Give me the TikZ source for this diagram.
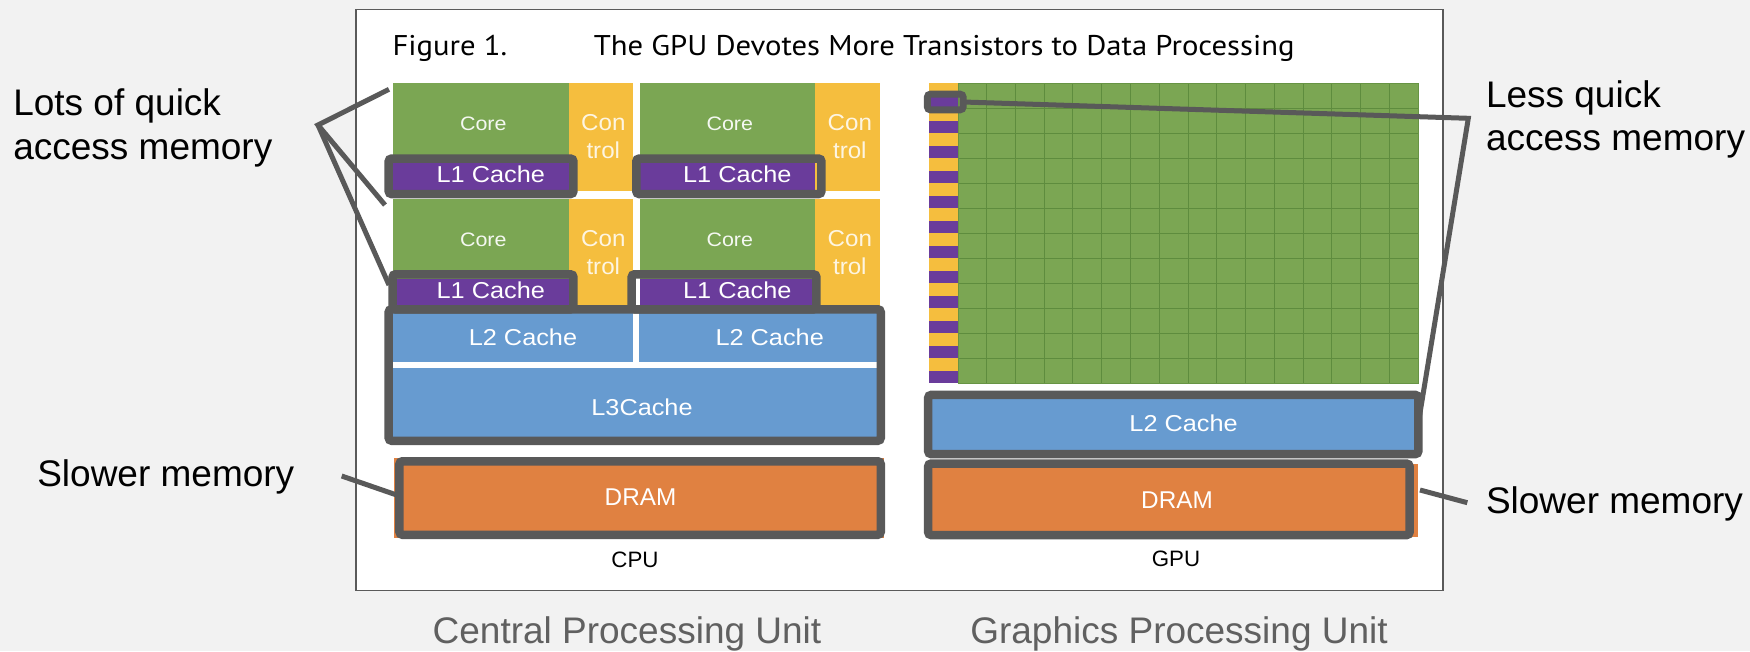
\documentclass[tikz,border=0pt]{standalone}
\usepackage{graphicx}
\usepackage{fontspec}
\setmainfont{Liberation Sans}
\newfontfamily\dinfont{PT Sans}
\usetikzlibrary{calc}

\definecolor{bggray}{HTML}{F2F2F2}
\definecolor{framegray}{HTML}{5A5A5A}
\definecolor{outgray}{HTML}{595959}
\definecolor{coregreen}{HTML}{7BA653}
\definecolor{gridline}{HTML}{5E8C3E}
\definecolor{ctlyellow}{HTML}{F5BE3E}
\definecolor{l1purple}{HTML}{6A3C9B}
\definecolor{cacheblue}{HTML}{679BD0}
\definecolor{dramorange}{HTML}{E08141}
\definecolor{labelgray}{HTML}{606060}

% filled block from corner (x1,y1) to corner (x2,y2)
\newcommand\blk[6]{%
  \pgfmathsetmacro\blkW{#5-#3}\pgfmathsetmacro\blkH{#6-#4}%
  \pgfmathsetmacro\blkX{(#3+#5)/2}\pgfmathsetmacro\blkY{(#4+#6)/2}%
  \node[blockfill, fill=#2, minimum width=\blkW pt, minimum height=\blkH pt] (#1) at (\blkX,\blkY) {};}
% thick highlight frame given by its outer edges and line width
\newcommand\hlbox[6]{%
  \pgfmathsetmacro\hlW{#4-#2-#6}\pgfmathsetmacro\hlH{#5-#3-#6}%
  \pgfmathsetmacro\hlX{(#2+#4)/2}\pgfmathsetmacro\hlY{(#3+#5)/2}%
  \node[hilite, line width=#6pt, minimum width=\hlW pt, minimum height=\hlH pt] (#1) at (\hlX,\hlY) {};}
% horizontally widened text
\newcommand\widetext[2]{\scalebox{#1}[1]{#2}}

\begin{document}
\begin{tikzpicture}[x=1pt,y=-1pt,
  blockfill/.style={rectangle, draw=none, inner sep=0pt, outer sep=0pt},
  hilite/.style={rectangle, draw=outgray, fill=none, rounded corners=3pt, inner sep=0pt, outer sep=0pt},
  pointer/.style={draw=outgray, line width=5pt},
  lbl/.style={inner sep=0pt, outer sep=0pt},
  headtext/.style={lbl, anchor=base west, font=\dinfont\fontsize{28.5}{34}\selectfont},
  blocktext/.style={lbl, text=white, font=\fontsize{23}{28}\selectfont},
  coretext/.style={lbl, text=white, opacity=0.92, font=\fontsize{19.5}{24}\selectfont},
  ctltext/.style={lbl, text=white, opacity=0.85, font=\fontsize{23}{28}\selectfont},
  armtext/.style={lbl, text=white, font=\fontsize{24.3}{28}\selectfont},
  note/.style={lbl, text=black, font=\fontsize{37}{44}\selectfont},
  unitname/.style={lbl, text=labelgray, font=\fontsize{37}{44}\selectfont}]

\useasboundingbox (0,0) rectangle (1750,651);
\fill[bggray] (0,0) rectangle (1750,651);
\draw[fill=white, draw=framegray, line width=1.8pt] (355.7,9.5) rectangle (1443,590.5);

% heading
\node[headtext] (fignum) at (392.5,55.7) {\widetext{1.077}{Figure 1.}};
\node[headtext] (figtitle) at (593.8,55.7) {\widetext{1.077}{The GPU Devotes More Transistors to Data Processing}};

% ---------------- CPU ----------------
\blk{coreA}{coregreen}{393}{83.3}{568.5}{190.7}
\blk{ctlA}{ctlyellow}{568.5}{83.3}{633}{190.7}
\blk{coreB}{coregreen}{639.5}{83.3}{815}{190.7}
\blk{ctlB}{ctlyellow}{815}{83.3}{879.5}{190.7}
\blk{coreC}{coregreen}{393}{199.3}{568.5}{306}
\blk{ctlC}{ctlyellow}{568.5}{199.3}{633}{306}
\blk{coreD}{coregreen}{639.5}{199.3}{815}{306}
\blk{ctlD}{ctlyellow}{815}{199.3}{879.5}{306}
\blk{lA}{l1purple}{393}{163.3}{568.5}{190.7}
\blk{lB}{l1purple}{639.5}{163.3}{815}{190.7}
\blk{lC}{l1purple}{393}{279.3}{568.5}{306}
\blk{lD}{l1purple}{639.5}{279.3}{815}{306}
\blk{ltwoA}{cacheblue}{393}{306}{633.2}{361.7}
\blk{ltwoB}{cacheblue}{639}{306}{877.3}{361.7}
\blk{lthree}{cacheblue}{393}{368.3}{877.3}{442}
\blk{dramC}{dramorange}{394}{458}{884}{538}

\foreach \cx/\ctx/\row/\dy in {483.3/603.3/1/0, 729.8/849.8/2/0, 483.3/603.3/3/116, 729.8/849.8/4/116}{
  \node[coretext, anchor=base] (coretxt\row) at (\cx,130+\dy) {\widetext{1.1}{Core}};
  \node[ctltext, anchor=base] (contxt\row) at (\ctx,130+\dy) {\widetext{1.05}{Con}};
  \node[ctltext, anchor=base] (troltxt\row) at (\ctx,158.3+\dy) {\widetext{1.05}{trol}};
  \node[blocktext, anchor=base] (lonetxt\row) at (\cx+7.5,182.7+\dy) {\widetext{1.1}{L1 Cache}};
}
\node[blocktext, anchor=base] (ltwotxtA) at (523,345) {\widetext{1.1}{L2 Cache}};
\node[blocktext, anchor=base] (ltwotxtB) at (769.7,345) {\widetext{1.1}{L2 Cache}};
\node[blocktext, anchor=base] (lthreetxt) at (642,415) {\widetext{1.1}{L3Cache}};
\node[armtext, anchor=base] (dramCtxt) at (640.5,505.7) {DRAM};
\node[lbl, anchor=base, font=\fontsize{22.3}{26}\selectfont] (cpulbl) at (635,567.7) {CPU};

% ---------------- GPU ----------------
\blk{alu}{coregreen}{957.9}{83.3}{1418.1}{383.3}
\foreach \j in {0,...,11}{
  \fill[ctlyellow] (929.1,83.3+25*\j) rectangle (957.9,95.8+25*\j);
  \fill[l1purple] (929.1,95.8+25*\j) rectangle (957.9,108.3+25*\j);
}
\foreach \i in {1,...,15}
  \draw[gridline, line width=1pt] (957.9+28.763*\i,83.3) -- (957.9+28.763*\i,383.3);
\foreach \j in {1,...,11}
  \draw[gridline, line width=1pt] (957.9,83.3+25*\j) -- (1418.1,83.3+25*\j);
\draw[gridline!70!coregreen, line width=0.8pt] (alu.north west) rectangle (alu.south east);

\blk{gltwo}{cacheblue}{931}{396}{1416}{452}
\blk{dramG}{dramorange}{931}{464}{1418.4}{537}
\node[blocktext, anchor=base] (gltwotxt) at (1183.6,431.7) {\widetext{1.1}{L2 Cache}};
\node[armtext, anchor=base] (dramGtxt) at (1177,508.3) {DRAM};
\node[lbl, anchor=base, font=\fontsize{22.3}{26}\selectfont] (gpulbl) at (1176,566) {GPU};

% ---------------- highlight frames ----------------
\hlbox{hlA}{384.4}{154.3}{577.7}{198.3}{8.5}
\hlbox{hlB}{632}{154.3}{825.7}{198.3}{8.5}
\hlbox{hlC}{388.3}{270}{577.7}{313.5}{8.5}
\hlbox{hlD}{627.4}{270}{820.7}{313.5}{8.5}
\hlbox{hlcpu}{384.4}{305}{885}{445}{8.5}
\hlbox{hldramC}{395.2}{457}{885}{539}{8.5}
\hlbox{hlsmall}{923.9}{90.7}{966.6}{113.3}{7}
\hlbox{hlgpu}{923.9}{390.7}{1422.6}{458.3}{8.5}
\hlbox{hldramG}{923.9}{459.3}{1413.8}{539.3}{8.5}

% ---------------- annotations ----------------
\node[note, anchor=base west] (lotsA) at (13.3,115) {Lots of quick};
\node[note, anchor=base west] (lotsB) at (13.3,159.3) {access memory};
\node[note, anchor=base west] (slowL) at (37.3,486.7) {Slower memory};
\node[note, anchor=base west] (lessA) at (1486,107.3) {Less quick};
\node[note, anchor=base west] (lessB) at (1486,150.7) {access memory};
\node[note, anchor=base west] (slowR) at (1486,513.3) {Slower memory};

\coordinate (apex) at (318,125);
\coordinate (tipA) at (389,89.3);
\coordinate (tipB) at (385,205);
\coordinate (tipC) at (389,285);
\draw[pointer] (tipA) -- (apex) -- (tipB);
\draw[pointer] (apex) -- (tipC);

\coordinate (slowLend) at (341.7,476);
\coordinate (slowLtip) at (396.7,495);
\draw[pointer] (slowLend) -- (slowLtip);

\coordinate (bend) at (1468.3,118.3);
\coordinate (gtip) at (1418.3,423.3);
\draw[pointer] (hlsmall.east) -- (bend) -- (gtip);

\coordinate (slowRtip) at (1420,490);
\coordinate (slowRend) at (1467.3,502.7);
\draw[pointer] (slowRtip) -- (slowRend);

% unit names
\node[unitname, anchor=base] (cpuname) at (627,643) {Central Processing Unit};
\node[unitname, anchor=base] (gpuname) at (1179,643) {Graphics Processing Unit};
\end{tikzpicture}
\end{document}
